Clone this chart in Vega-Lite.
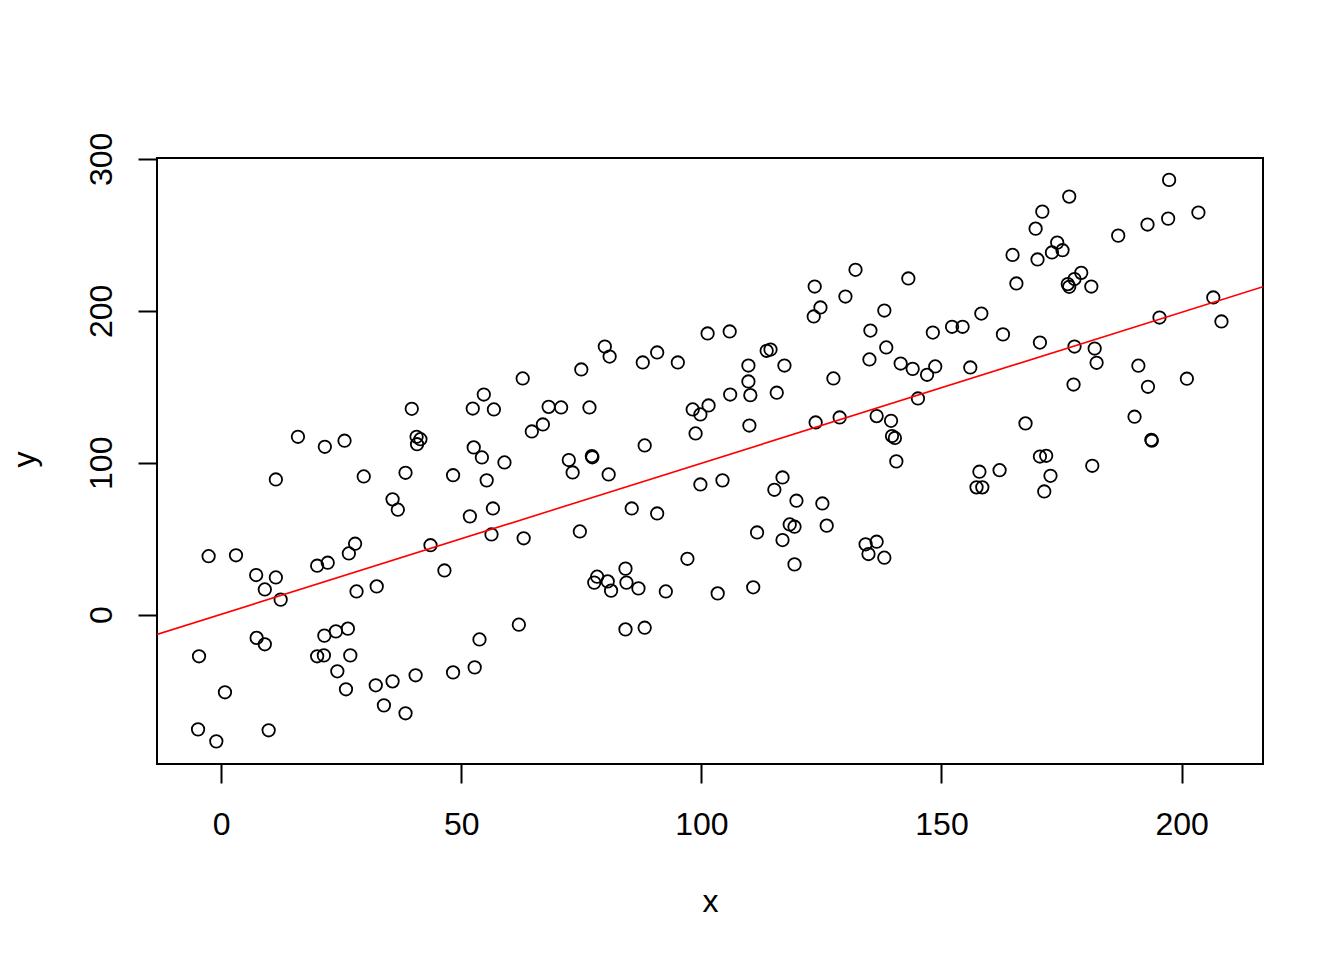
{
  "$schema": "https://vega.github.io/schema/vega-lite/v6.json",
  "width": 1106,
  "height": 606,
  "autosize": {"type": "none"},
  "padding": {"left": 157, "top": 158, "right": 81, "bottom": 196},
  "background": "white",
  "config": {
    "view": {"stroke": "black", "strokeWidth": 2},
    "axis": {
      "grid": false,
      "domain": false,
      "ticks": true,
      "tickColor": "black",
      "tickWidth": 2,
      "tickSize": 19,
      "labelFont": "Liberation Sans",
      "labelFontSize": 32,
      "labelColor": "black",
      "titleFont": "Liberation Sans",
      "titleFontSize": 32,
      "titleFontWeight": "normal",
      "titleColor": "black",
      "labelFlush": false,
      "labelOverlap": false
    }
  },
  "datasets": {
    "pts": [
      {"x": 39.7, "y": 135.5}, {"x": 16.0, "y": 117.1}, {"x": 21.6, "y": 110.5}, {"x": 25.7, "y": 114.5},
      {"x": 40.7, "y": 117.1}, {"x": 40.8, "y": 112.2}, {"x": 41.5, "y": 115.5}, {"x": 11.4, "y": 89.0},
      {"x": 29.7, "y": 91.0}, {"x": 38.4, "y": 93.4}, {"x": 48.3, "y": 91.8}, {"x": 35.7, "y": 75.9},
      {"x": 36.8, "y": 69.1}, {"x": 27.9, "y": 46.7}, {"x": 26.6, "y": 40.3}, {"x": 43.6, "y": 45.7},
      {"x": -2.6, "y": 38.5}, {"x": 3.1, "y": 39.1}, {"x": 20.0, "y": 32.2}, {"x": 22.2, "y": 34.2},
      {"x": 7.3, "y": 26.1}, {"x": 11.4, "y": 24.5}, {"x": 9.1, "y": 16.6}, {"x": 12.4, "y": 9.9},
      {"x": 46.5, "y": 29.1}, {"x": 28.2, "y": 15.3}, {"x": 32.4, "y": 18.6}, {"x": 7.4, "y": -15.3},
      {"x": 9.1, "y": -19.5}, {"x": -4.6, "y": -27.4}, {"x": 21.5, "y": -13.8}, {"x": 23.9, "y": -11.0},
      {"x": 26.4, "y": -9.2}, {"x": 20.0, "y": -27.4}, {"x": 21.4, "y": -26.8}, {"x": 26.9, "y": -26.8},
      {"x": 24.2, "y": -37.3}, {"x": 26.0, "y": -49.1}, {"x": 0.8, "y": -51.1}, {"x": 32.2, "y": -46.5},
      {"x": 35.7, "y": -43.9}, {"x": 40.5, "y": -39.9}, {"x": 48.3, "y": -38.0}, {"x": 33.9, "y": -59.7},
      {"x": 38.4, "y": -64.9}, {"x": -4.8, "y": -75.5}, {"x": 9.9, "y": -76.1}, {"x": -1.0, "y": -83.4},
      {"x": 101.3, "y": 185.1}, {"x": 105.9, "y": 186.4}, {"x": 79.9, "y": 176.5}, {"x": 80.9, "y": 169.9},
      {"x": 90.8, "y": 172.6}, {"x": 87.8, "y": 166.0}, {"x": 95.1, "y": 166.0}, {"x": 75.0, "y": 161.4},
      {"x": 109.8, "y": 164.0}, {"x": 109.8, "y": 153.5}, {"x": 110.2, "y": 144.5}, {"x": 106.0, "y": 144.9},
      {"x": 62.8, "y": 155.5}, {"x": 54.7, "y": 144.9}, {"x": 52.4, "y": 135.7}, {"x": 56.8, "y": 135.1},
      {"x": 68.2, "y": 136.8}, {"x": 70.8, "y": 136.4}, {"x": 76.7, "y": 136.4}, {"x": 98.2, "y": 135.1},
      {"x": 101.5, "y": 137.7}, {"x": 99.8, "y": 131.8}, {"x": 110.0, "y": 124.5}, {"x": 67.0, "y": 125.2},
      {"x": 64.7, "y": 120.6}, {"x": 98.8, "y": 119.3}, {"x": 88.2, "y": 111.4}, {"x": 52.6, "y": 110.1},
      {"x": 54.3, "y": 103.5}, {"x": 59.0, "y": 100.2}, {"x": 55.3, "y": 88.4}, {"x": 72.4, "y": 101.8},
      {"x": 77.2, "y": 104.4}, {"x": 77.3, "y": 103.6}, {"x": 73.2, "y": 93.6}, {"x": 80.7, "y": 92.3},
      {"x": 99.8, "y": 85.7}, {"x": 104.4, "y": 88.4}, {"x": 51.8, "y": 64.7}, {"x": 56.6, "y": 69.9},
      {"x": 85.5, "y": 69.9}, {"x": 90.8, "y": 66.6}, {"x": 56.3, "y": 52.8}, {"x": 63.0, "y": 50.3},
      {"x": 74.7, "y": 54.8}, {"x": 111.6, "y": 54.1}, {"x": 97.1, "y": 36.8}, {"x": 78.3, "y": 25.0},
      {"x": 77.7, "y": 21.1}, {"x": 80.5, "y": 21.9}, {"x": 81.2, "y": 15.8}, {"x": 84.2, "y": 30.3},
      {"x": 84.4, "y": 21.1}, {"x": 86.9, "y": 17.3}, {"x": 92.6, "y": 15.3}, {"x": 103.4, "y": 14.0},
      {"x": 110.8, "y": 18.0}, {"x": 62.0, "y": -6.6}, {"x": 53.8, "y": -16.3}, {"x": 84.2, "y": -9.7},
      {"x": 88.2, "y": -8.6}, {"x": 52.8, "y": -34.7}, {"x": 132.1, "y": 227.0}, {"x": 143.1, "y": 221.3},
      {"x": 123.6, "y": 216.0}, {"x": 130.0, "y": 209.4}, {"x": 124.8, "y": 202.2}, {"x": 123.4, "y": 196.3},
      {"x": 138.1, "y": 200.2}, {"x": 158.3, "y": 198.2}, {"x": 135.2, "y": 187.0}, {"x": 148.2, "y": 185.7},
      {"x": 152.2, "y": 189.5}, {"x": 154.4, "y": 189.5}, {"x": 162.8, "y": 184.5}, {"x": 164.8, "y": 236.8},
      {"x": 113.6, "y": 173.7}, {"x": 114.4, "y": 174.5}, {"x": 117.3, "y": 164.0}, {"x": 138.5, "y": 175.9},
      {"x": 135.0, "y": 168.0}, {"x": 141.5, "y": 165.3}, {"x": 144.0, "y": 161.8}, {"x": 148.7, "y": 163.4},
      {"x": 147.0, "y": 157.9}, {"x": 156.0, "y": 162.7}, {"x": 127.5, "y": 155.5}, {"x": 115.7, "y": 146.1},
      {"x": 145.1, "y": 142.3}, {"x": 136.5, "y": 130.7}, {"x": 139.5, "y": 127.6}, {"x": 139.7, "y": 117.6},
      {"x": 140.3, "y": 116.3}, {"x": 128.8, "y": 129.8}, {"x": 123.8, "y": 126.5}, {"x": 140.6, "y": 100.9},
      {"x": 157.9, "y": 94.1}, {"x": 162.1, "y": 95.1}, {"x": 157.3, "y": 83.8}, {"x": 158.5, "y": 83.8},
      {"x": 116.9, "y": 90.3}, {"x": 115.2, "y": 82.2}, {"x": 119.8, "y": 75.0}, {"x": 125.2, "y": 73.2},
      {"x": 118.4, "y": 59.4}, {"x": 119.4, "y": 57.9}, {"x": 126.1, "y": 58.6}, {"x": 116.9, "y": 49.1},
      {"x": 134.2, "y": 46.3}, {"x": 136.5, "y": 48.0}, {"x": 134.8, "y": 39.9}, {"x": 138.1, "y": 37.5},
      {"x": 119.4, "y": 33.1}, {"x": 197.4, "y": 286.2}, {"x": 176.6, "y": 275.2}, {"x": 171.0, "y": 265.3},
      {"x": 203.5, "y": 264.7}, {"x": 197.2, "y": 260.7}, {"x": 192.9, "y": 256.8}, {"x": 169.6, "y": 254.1},
      {"x": 186.8, "y": 249.5}, {"x": 174.1, "y": 244.9}, {"x": 173.0, "y": 238.4}, {"x": 175.2, "y": 239.9},
      {"x": 170.0, "y": 233.8}, {"x": 165.6, "y": 218.0}, {"x": 179.1, "y": 225.0}, {"x": 177.7, "y": 220.9},
      {"x": 176.3, "y": 217.6}, {"x": 176.6, "y": 215.8}, {"x": 181.2, "y": 216.0}, {"x": 206.6, "y": 208.8},
      {"x": 195.4, "y": 195.6}, {"x": 208.3, "y": 193.0}, {"x": 170.5, "y": 179.1}, {"x": 177.7, "y": 176.5},
      {"x": 181.9, "y": 175.2}, {"x": 182.3, "y": 165.8}, {"x": 191.0, "y": 163.9}, {"x": 201.1, "y": 155.3},
      {"x": 177.5, "y": 151.5}, {"x": 193.0, "y": 150.0}, {"x": 167.5, "y": 125.9}, {"x": 190.2, "y": 130.3},
      {"x": 193.7, "y": 115.1}, {"x": 193.8, "y": 114.5}, {"x": 170.5, "y": 104.1}, {"x": 171.8, "y": 104.6},
      {"x": 181.4, "y": 98.0}, {"x": 172.7, "y": 91.4}, {"x": 171.4, "y": 81.1}
    ],
    "fit": [
      {"x": -13.35, "y": -13.0},
      {"x": 216.95, "y": 215.9}
    ]
  },
  "encoding": {
    "x": {
      "field": "x", "type": "quantitative",
      "scale": {"domain": [-13.35, 216.95], "nice": false, "zero": false},
      "axis": {
        "values": [0, 50, 100, 150, 200],
        "labelPadding": 51,
        "labelBaseline": "alphabetic",
        "labelAlign": "center",
        "title": "x",
        "titleX": 553,
        "titleY": 147,
        "titleBaseline": "alphabetic",
        "titleAlign": "center"
      }
    },
    "y": {
      "field": "y", "type": "quantitative",
      "scale": {"domain": [-98.3, 300.6], "nice": false, "zero": false},
      "axis": {
        "values": [0, 100, 200, 300],
        "labelAngle": -90,
        "labelAlign": "center",
        "labelBaseline": "alphabetic",
        "labelPadding": 26.6,
        "title": "y",
        "titleAngle": -90,
        "titleX": -122.5,
        "titleY": 301,
        "titleBaseline": "alphabetic",
        "titleAlign": "center"
      }
    }
  },
  "layer": [
    {
      "data": {"name": "pts"},
      "mark": {"type": "point", "shape": "circle", "filled": false, "stroke": "black", "strokeWidth": 1.8, "size": 155, "opacity": 1}
    },
    {
      "data": {"name": "fit"},
      "mark": {"type": "line", "color": "#FF0000", "strokeWidth": 1.6, "clip": true}
    }
  ]
}
